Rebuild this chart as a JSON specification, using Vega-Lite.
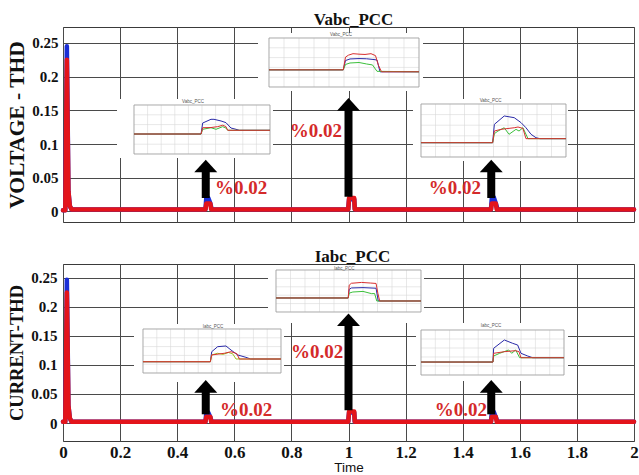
{
  "$schema": "https://vega.github.io/schema/vega-lite/v6.json",
  "background": "white",
  "padding": {"left": 6, "top": 10, "right": 4, "bottom": 0},
  "spacing": 24,
  "config": {
    "view": {"stroke": "#3a3a3a", "strokeWidth": 1},
    "axis": {"gridColor": "#4a4a4a", "gridOpacity": 1, "gridWidth": 1},
    "title": {"font": "Liberation Serif", "fontWeight": "bold", "fontSize": 17, "color": "#111", "baseline": "alphabetic", "offset": -2}
  },
  "datasets": {
    "mainV": [
      {"t": 0, "thd": 0.002, "phase": "a"}, {"t": 0.008, "thd": 0.002, "phase": "a"}, {"t": 0.0135, "thd": 0.245, "phase": "a"}, {"t": 0.019, "thd": 0.03, "phase": "a"}, {"t": 0.024, "thd": 0.008, "phase": "a"}, {"t": 0.03, "thd": 0.003, "phase": "a"},
      {"t": 0.499, "thd": 0.003, "phase": "a"}, {"t": 0.502, "thd": 0.021, "phase": "a"}, {"t": 0.509, "thd": 0.02, "phase": "a"}, {"t": 0.516, "thd": 0.012, "phase": "a"}, {"t": 0.521, "thd": 0.003, "phase": "a"},
      {"t": 0.999, "thd": 0.003, "phase": "a"}, {"t": 1.002, "thd": 0.018, "phase": "a"}, {"t": 1.02, "thd": 0.018, "phase": "a"}, {"t": 1.022, "thd": 0.003, "phase": "a"},
      {"t": 1.499, "thd": 0.003, "phase": "a"}, {"t": 1.502, "thd": 0.02, "phase": "a"}, {"t": 1.509, "thd": 0.021, "phase": "a"}, {"t": 1.516, "thd": 0.012, "phase": "a"}, {"t": 1.522, "thd": 0.003, "phase": "a"}, {"t": 2, "thd": 0.003, "phase": "a"},
      {"t": 0, "thd": 0.002, "phase": "c"}, {"t": 0.008, "thd": 0.002, "phase": "c"}, {"t": 0.0135, "thd": 0.225, "phase": "c"}, {"t": 0.019, "thd": 0.03, "phase": "c"}, {"t": 0.024, "thd": 0.008, "phase": "c"}, {"t": 0.03, "thd": 0.003, "phase": "c"},
      {"t": 0.499, "thd": 0.003, "phase": "c"}, {"t": 0.502, "thd": 0.012, "phase": "c"}, {"t": 0.516, "thd": 0.012, "phase": "c"}, {"t": 0.519, "thd": 0.003, "phase": "c"},
      {"t": 0.999, "thd": 0.003, "phase": "c"}, {"t": 1.002, "thd": 0.02, "phase": "c"}, {"t": 1.02, "thd": 0.02, "phase": "c"}, {"t": 1.022, "thd": 0.003, "phase": "c"},
      {"t": 1.499, "thd": 0.003, "phase": "c"}, {"t": 1.502, "thd": 0.012, "phase": "c"}, {"t": 1.516, "thd": 0.012, "phase": "c"}, {"t": 1.519, "thd": 0.003, "phase": "c"}, {"t": 2, "thd": 0.003, "phase": "c"}
    ],
    "mainI": [
      {"t": 0, "thd": 0.002, "phase": "a"}, {"t": 0.008, "thd": 0.002, "phase": "a"}, {"t": 0.0135, "thd": 0.247, "phase": "a"}, {"t": 0.019, "thd": 0.03, "phase": "a"}, {"t": 0.024, "thd": 0.008, "phase": "a"}, {"t": 0.03, "thd": 0.002, "phase": "a"},
      {"t": 0.499, "thd": 0.002, "phase": "a"}, {"t": 0.502, "thd": 0.018, "phase": "a"}, {"t": 0.509, "thd": 0.018, "phase": "a"}, {"t": 0.516, "thd": 0.01, "phase": "a"}, {"t": 0.521, "thd": 0.002, "phase": "a"},
      {"t": 0.999, "thd": 0.002, "phase": "a"}, {"t": 1.002, "thd": 0.018, "phase": "a"}, {"t": 1.02, "thd": 0.018, "phase": "a"}, {"t": 1.022, "thd": 0.002, "phase": "a"},
      {"t": 1.499, "thd": 0.002, "phase": "a"}, {"t": 1.502, "thd": 0.018, "phase": "a"}, {"t": 1.509, "thd": 0.019, "phase": "a"}, {"t": 1.516, "thd": 0.01, "phase": "a"}, {"t": 1.522, "thd": 0.002, "phase": "a"}, {"t": 2, "thd": 0.002, "phase": "a"},
      {"t": 0, "thd": 0.002, "phase": "c"}, {"t": 0.008, "thd": 0.002, "phase": "c"}, {"t": 0.0135, "thd": 0.225, "phase": "c"}, {"t": 0.019, "thd": 0.03, "phase": "c"}, {"t": 0.024, "thd": 0.008, "phase": "c"}, {"t": 0.03, "thd": 0.002, "phase": "c"},
      {"t": 0.499, "thd": 0.002, "phase": "c"}, {"t": 0.502, "thd": 0.011, "phase": "c"}, {"t": 0.516, "thd": 0.011, "phase": "c"}, {"t": 0.519, "thd": 0.002, "phase": "c"},
      {"t": 0.999, "thd": 0.002, "phase": "c"}, {"t": 1.002, "thd": 0.02, "phase": "c"}, {"t": 1.02, "thd": 0.02, "phase": "c"}, {"t": 1.022, "thd": 0.002, "phase": "c"},
      {"t": 1.499, "thd": 0.002, "phase": "c"}, {"t": 1.502, "thd": 0.011, "phase": "c"}, {"t": 1.516, "thd": 0.011, "phase": "c"}, {"t": 1.519, "thd": 0.002, "phase": "c"}, {"t": 2, "thd": 0.002, "phase": "c"}
    ],
    "inVTL": [
      {"t": 0.45, "thd": 0.0104, "phase": "a"}, {"t": 0.4993, "thd": 0.0104, "phase": "a"}, {"t": 0.5005, "thd": 0.0216, "phase": "a"}, {"t": 0.5066, "thd": 0.0254, "phase": "a"}, {"t": 0.5088, "thd": 0.0254, "phase": "a"}, {"t": 0.514, "thd": 0.0237, "phase": "a"}, {"t": 0.5176, "thd": 0.022, "phase": "a"}, {"t": 0.5213, "thd": 0.0165, "phase": "a"}, {"t": 0.525, "thd": 0.0152, "phase": "a"}, {"t": 0.5274, "thd": 0.0142, "phase": "a"}, {"t": 0.55, "thd": 0.0142, "phase": "a"},
      {"t": 0.45, "thd": 0.0104, "phase": "b"}, {"t": 0.4993, "thd": 0.0104, "phase": "b"}, {"t": 0.5005, "thd": 0.0152, "phase": "b"}, {"t": 0.5066, "thd": 0.0168, "phase": "b"}, {"t": 0.5103, "thd": 0.0152, "phase": "b"}, {"t": 0.5152, "thd": 0.0179, "phase": "b"}, {"t": 0.5176, "thd": 0.0165, "phase": "b"}, {"t": 0.5189, "thd": 0.0142, "phase": "b"}, {"t": 0.55, "thd": 0.0142, "phase": "b"},
      {"t": 0.45, "thd": 0.0104, "phase": "c"}, {"t": 0.4993, "thd": 0.0104, "phase": "c"}, {"t": 0.5005, "thd": 0.0168, "phase": "c"}, {"t": 0.5066, "thd": 0.017, "phase": "c"}, {"t": 0.5115, "thd": 0.0179, "phase": "c"}, {"t": 0.5152, "thd": 0.0193, "phase": "c"}, {"t": 0.5176, "thd": 0.018, "phase": "c"}, {"t": 0.5189, "thd": 0.0142, "phase": "c"}, {"t": 0.55, "thd": 0.0142, "phase": "c"}
    ],
    "inVTM": [
      {"t": 0.95, "thd": 0.0075, "phase": "a"}, {"t": 0.9995, "thd": 0.0075, "phase": "a"}, {"t": 1.001, "thd": 0.017, "phase": "a"}, {"t": 1.004, "thd": 0.0186, "phase": "a"}, {"t": 1.01, "thd": 0.019, "phase": "a"}, {"t": 1.015, "thd": 0.0188, "phase": "a"}, {"t": 1.02, "thd": 0.018, "phase": "a"}, {"t": 1.022, "thd": 0.0175, "phase": "a"}, {"t": 1.024, "thd": 0.0055, "phase": "a"}, {"t": 1.05, "thd": 0.0055, "phase": "a"},
      {"t": 0.95, "thd": 0.0075, "phase": "b"}, {"t": 0.9995, "thd": 0.0075, "phase": "b"}, {"t": 1.001, "thd": 0.013, "phase": "b"}, {"t": 1.004, "thd": 0.0145, "phase": "b"}, {"t": 1.01, "thd": 0.015, "phase": "b"}, {"t": 1.015, "thd": 0.0135, "phase": "b"}, {"t": 1.019, "thd": 0.0125, "phase": "b"}, {"t": 1.022, "thd": 0.006, "phase": "b"}, {"t": 1.05, "thd": 0.0055, "phase": "b"},
      {"t": 0.95, "thd": 0.0075, "phase": "c"}, {"t": 0.9995, "thd": 0.0075, "phase": "c"}, {"t": 1.001, "thd": 0.0205, "phase": "c"}, {"t": 1.003, "thd": 0.0225, "phase": "c"}, {"t": 1.006, "thd": 0.024, "phase": "c"}, {"t": 1.01, "thd": 0.0235, "phase": "c"}, {"t": 1.014, "thd": 0.0232, "phase": "c"}, {"t": 1.018, "thd": 0.024, "phase": "c"}, {"t": 1.021, "thd": 0.022, "phase": "c"}, {"t": 1.023, "thd": 0.012, "phase": "c"}, {"t": 1.025, "thd": 0.0055, "phase": "c"}, {"t": 1.05, "thd": 0.0055, "phase": "c"}
    ],
    "inVTR": [
      {"t": 1.45, "thd": 0.0035, "phase": "a"}, {"t": 1.4994, "thd": 0.0035, "phase": "a"}, {"t": 1.5006, "thd": 0.0208, "phase": "a"}, {"t": 1.5074, "thd": 0.0287, "phase": "a"}, {"t": 1.5143, "thd": 0.0271, "phase": "a"}, {"t": 1.519, "thd": 0.0224, "phase": "a"}, {"t": 1.5224, "thd": 0.0176, "phase": "a"}, {"t": 1.5259, "thd": 0.0114, "phase": "a"}, {"t": 1.5293, "thd": 0.0082, "phase": "a"}, {"t": 1.532, "thd": 0.0073, "phase": "a"}, {"t": 1.55, "thd": 0.0073, "phase": "a"},
      {"t": 1.45, "thd": 0.0035, "phase": "b"}, {"t": 1.4994, "thd": 0.0035, "phase": "b"}, {"t": 1.5006, "thd": 0.012, "phase": "b"}, {"t": 1.5031, "thd": 0.0145, "phase": "b"}, {"t": 1.5074, "thd": 0.0176, "phase": "b"}, {"t": 1.5107, "thd": 0.0114, "phase": "b"}, {"t": 1.5155, "thd": 0.0161, "phase": "b"}, {"t": 1.5176, "thd": 0.0145, "phase": "b"}, {"t": 1.5203, "thd": 0.0176, "phase": "b"}, {"t": 1.5238, "thd": 0.0073, "phase": "b"}, {"t": 1.55, "thd": 0.0073, "phase": "b"},
      {"t": 1.45, "thd": 0.0035, "phase": "c"}, {"t": 1.4994, "thd": 0.0035, "phase": "c"}, {"t": 1.5006, "thd": 0.0145, "phase": "c"}, {"t": 1.5052, "thd": 0.0161, "phase": "c"}, {"t": 1.5143, "thd": 0.0176, "phase": "c"}, {"t": 1.5169, "thd": 0.0183, "phase": "c"}, {"t": 1.5203, "thd": 0.017, "phase": "c"}, {"t": 1.5224, "thd": 0.0073, "phase": "c"}, {"t": 1.55, "thd": 0.0073, "phase": "c"}
    ],
    "inITL": [
      {"t": 0.45, "thd": 0.0028, "phase": "a"}, {"t": 0.4988, "thd": 0.0028, "phase": "a"}, {"t": 0.4998, "thd": 0.0142, "phase": "a"}, {"t": 0.5041, "thd": 0.0199, "phase": "a"}, {"t": 0.5101, "thd": 0.0207, "phase": "a"}, {"t": 0.5138, "thd": 0.0161, "phase": "a"}, {"t": 0.5186, "thd": 0.0105, "phase": "a"}, {"t": 0.5246, "thd": 0.0078, "phase": "a"}, {"t": 0.528, "thd": 0.0059, "phase": "a"}, {"t": 0.55, "thd": 0.0059, "phase": "a"},
      {"t": 0.45, "thd": 0.0028, "phase": "b"}, {"t": 0.4988, "thd": 0.0028, "phase": "b"}, {"t": 0.4998, "thd": 0.0105, "phase": "b"}, {"t": 0.504, "thd": 0.0124, "phase": "b"}, {"t": 0.508, "thd": 0.0112, "phase": "b"}, {"t": 0.512, "thd": 0.0133, "phase": "b"}, {"t": 0.515, "thd": 0.0118, "phase": "b"}, {"t": 0.5174, "thd": 0.0059, "phase": "b"}, {"t": 0.55, "thd": 0.0059, "phase": "b"},
      {"t": 0.45, "thd": 0.0028, "phase": "c"}, {"t": 0.4988, "thd": 0.0028, "phase": "c"}, {"t": 0.4998, "thd": 0.0105, "phase": "c"}, {"t": 0.5089, "thd": 0.0124, "phase": "c"}, {"t": 0.5138, "thd": 0.0142, "phase": "c"}, {"t": 0.518, "thd": 0.012, "phase": "c"}, {"t": 0.5198, "thd": 0.0059, "phase": "c"}, {"t": 0.55, "thd": 0.0059, "phase": "c"}
    ],
    "inITM": [
      {"t": 0.95, "thd": 0.0067, "phase": "a"}, {"t": 0.9998, "thd": 0.0067, "phase": "a"}, {"t": 1.0005, "thd": 0.017, "phase": "a"}, {"t": 1.002, "thd": 0.0186, "phase": "a"}, {"t": 1.01, "thd": 0.019, "phase": "a"}, {"t": 1.019, "thd": 0.0183, "phase": "a"}, {"t": 1.0205, "thd": 0.0031, "phase": "a"}, {"t": 1.05, "thd": 0.0031, "phase": "a"},
      {"t": 0.95, "thd": 0.0067, "phase": "b"}, {"t": 0.9998, "thd": 0.0067, "phase": "b"}, {"t": 1.0005, "thd": 0.0125, "phase": "b"}, {"t": 1.003, "thd": 0.0138, "phase": "b"}, {"t": 1.01, "thd": 0.0145, "phase": "b"}, {"t": 1.016, "thd": 0.0118, "phase": "b"}, {"t": 1.018, "thd": 0.012, "phase": "b"}, {"t": 1.0195, "thd": 0.0031, "phase": "b"}, {"t": 1.05, "thd": 0.0031, "phase": "b"},
      {"t": 0.95, "thd": 0.0067, "phase": "c"}, {"t": 0.9998, "thd": 0.0067, "phase": "c"}, {"t": 1.0005, "thd": 0.022, "phase": "c"}, {"t": 1.002, "thd": 0.0242, "phase": "c"}, {"t": 1.009, "thd": 0.0252, "phase": "c"}, {"t": 1.015, "thd": 0.0245, "phase": "c"}, {"t": 1.019, "thd": 0.024, "phase": "c"}, {"t": 1.0203, "thd": 0.012, "phase": "c"}, {"t": 1.0215, "thd": 0.0031, "phase": "c"}, {"t": 1.05, "thd": 0.0031, "phase": "c"}
    ],
    "inITR": [
      {"t": 1.45, "thd": 0.0044, "phase": "a"}, {"t": 1.5003, "thd": 0.0044, "phase": "a"}, {"t": 1.5008, "thd": 0.0197, "phase": "a"}, {"t": 1.5083, "thd": 0.0289, "phase": "a"}, {"t": 1.5141, "thd": 0.0252, "phase": "a"}, {"t": 1.5176, "thd": 0.0233, "phase": "a"}, {"t": 1.5199, "thd": 0.0141, "phase": "a"}, {"t": 1.5246, "thd": 0.0111, "phase": "a"}, {"t": 1.5281, "thd": 0.0092, "phase": "a"}, {"t": 1.55, "thd": 0.0092, "phase": "a"},
      {"t": 1.45, "thd": 0.0044, "phase": "b"}, {"t": 1.5003, "thd": 0.0044, "phase": "b"}, {"t": 1.5008, "thd": 0.0111, "phase": "b"}, {"t": 1.505, "thd": 0.0141, "phase": "b"}, {"t": 1.5113, "thd": 0.0178, "phase": "b"}, {"t": 1.5134, "thd": 0.0141, "phase": "b"}, {"t": 1.5162, "thd": 0.0178, "phase": "b"}, {"t": 1.519, "thd": 0.0092, "phase": "b"}, {"t": 1.55, "thd": 0.0092, "phase": "b"},
      {"t": 1.45, "thd": 0.0044, "phase": "c"}, {"t": 1.5003, "thd": 0.0044, "phase": "c"}, {"t": 1.5008, "thd": 0.0141, "phase": "c"}, {"t": 1.5083, "thd": 0.0159, "phase": "c"}, {"t": 1.5159, "thd": 0.017, "phase": "c"}, {"t": 1.5185, "thd": 0.016, "phase": "c"}, {"t": 1.5199, "thd": 0.0092, "phase": "c"}, {"t": 1.55, "thd": 0.0092, "phase": "c"}
    ],
    "gA": [{"g": 0.45}, {"g": 0.46}, {"g": 0.47}, {"g": 0.48}, {"g": 0.49}, {"g": 0.5}, {"g": 0.51}, {"g": 0.52}, {"g": 0.53}, {"g": 0.54}, {"g": 0.55}],
    "gB": [{"g": 0.95}, {"g": 0.96}, {"g": 0.97}, {"g": 0.98}, {"g": 0.99}, {"g": 1.0}, {"g": 1.01}, {"g": 1.02}, {"g": 1.03}, {"g": 1.04}, {"g": 1.05}],
    "gC": [{"g": 1.45}, {"g": 1.46}, {"g": 1.47}, {"g": 1.48}, {"g": 1.49}, {"g": 1.5}, {"g": 1.51}, {"g": 1.52}, {"g": 1.53}, {"g": 1.54}, {"g": 1.55}],
    "gH": [{"h": -0.01}, {"h": 0}, {"h": 0.01}, {"h": 0.02}, {"h": 0.03}, {"h": 0.04}],
    "arrowsV": [{"t": 0.5, "y0": 0.02, "y1": 0.0675}, {"t": 1.0, "y0": 0.022, "y1": 0.1588}, {"t": 1.5, "y0": 0.02, "y1": 0.0675}],
    "arrowsI": [{"t": 0.5, "y0": 0.015, "y1": 0.063}, {"t": 1.0, "y0": 0.022, "y1": 0.178}, {"t": 1.5, "y0": 0.015, "y1": 0.063}],
    "labelsV": [{"t": 0.6235, "v": 0.0349, "txt": "%0.02"}, {"t": 0.886, "v": 0.1194, "txt": "%0.02"}, {"t": 1.373, "v": 0.0349, "txt": "%0.02"}],
    "labelsI": [{"t": 0.641, "v": 0.0224, "txt": "%0.02"}, {"t": 0.89, "v": 0.1224, "txt": "%0.02"}, {"t": 1.394, "v": 0.0224, "txt": "%0.02"}]
  },
  "vconcat": [
    {
      "width": 571, "height": 195,
      "title": {"text": "Vabc_PCC", "dx": 5},
      "resolve": {"scale": {"x": "independent", "y": "independent", "color": "independent"}},
      "layer": [
        {
          "data": {"name": "mainV"},
          "mark": {"type": "line", "strokeWidth": 4.5, "strokeJoin": "round", "strokeCap": "round"},
          "encoding": {
            "x": {"field": "t", "type": "quantitative", "scale": {"domain": [0, 2], "nice": false, "zero": false},
              "axis": {"values": [0, 0.2, 0.4, 0.6, 0.8, 1, 1.2, 1.4, 1.6, 1.8, 2], "labels": false, "ticks": false, "domain": false, "title": null, "grid": true}},
            "y": {"field": "thd", "type": "quantitative", "scale": {"domain": [-0.0156, 0.2737], "nice": false, "zero": false},
              "axis": {"values": [0, 0.05, 0.1, 0.15, 0.2, 0.25], "format": "~g", "ticks": false, "domain": false, "grid": true,
                "labelFont": "Liberation Serif", "labelFontWeight": "bold", "labelFontSize": 15, "labelColor": "#111", "labelPadding": 5,
                "title": "VOLTAGE - THD", "titleFont": "Liberation Serif", "titleFontWeight": "bold", "titleFontSize": 21.5, "titleColor": "#111", "titlePadding": 3}},
            "color": {"field": "phase", "type": "nominal", "scale": {"domain": ["a", "b", "c"], "range": ["#1a2ed6", "#2aa02a", "#e3141b"]}, "legend": null}
          }
        },
        {
          "layer": [
            {"data": {"values": [{}]}, "mark": {"type": "rect", "fill": "white", "strokeWidth": 0},
              "encoding": {"x": {"datum": 0.4375, "type": "quantitative", "scale": {"domain": [0.39779, 0.81765], "nice": false, "zero": false}, "axis": null}, "x2": {"datum": 0.5522},
                "y": {"datum": -0.0141, "type": "quantitative", "scale": {"domain": [-0.07939, 0.11959], "nice": false, "zero": false}, "axis": null}, "y2": {"datum": 0.0461}}},
            {"data": {"name": "gA"}, "mark": {"type": "rule", "color": "#d8d8d8", "strokeWidth": 0.6},
              "encoding": {"x": {"field": "g", "type": "quantitative", "scale": {"domain": [0.39779, 0.81765], "nice": false, "zero": false}, "axis": null},
                "y": {"datum": -0.01, "type": "quantitative", "scale": {"domain": [-0.07939, 0.11959], "nice": false, "zero": false}, "axis": null}, "y2": {"datum": 0.04}}},
            {"data": {"name": "gH"}, "mark": {"type": "rule", "color": "#d8d8d8", "strokeWidth": 0.6},
              "encoding": {"y": {"field": "h", "type": "quantitative", "scale": {"domain": [-0.07939, 0.11959], "nice": false, "zero": false}, "axis": null},
                "x": {"datum": 0.45, "type": "quantitative", "scale": {"domain": [0.39779, 0.81765], "nice": false, "zero": false}, "axis": null}, "x2": {"datum": 0.55}}},
            {"data": {"values": [{}]}, "mark": {"type": "rect", "filled": false, "stroke": "#9a9a9a", "strokeWidth": 0.7},
              "encoding": {"x": {"datum": 0.45, "type": "quantitative", "scale": {"domain": [0.39779, 0.81765], "nice": false, "zero": false}, "axis": null}, "x2": {"datum": 0.55},
                "y": {"datum": -0.01, "type": "quantitative", "scale": {"domain": [-0.07939, 0.11959], "nice": false, "zero": false}, "axis": null}, "y2": {"datum": 0.04}}},
            {"data": {"name": "inVTL"}, "mark": {"type": "line", "strokeWidth": 1},
              "encoding": {"x": {"field": "t", "type": "quantitative", "scale": {"domain": [0.39779, 0.81765], "nice": false, "zero": false}, "axis": null},
                "y": {"field": "thd", "type": "quantitative", "scale": {"domain": [-0.07939, 0.11959], "nice": false, "zero": false}, "axis": null},
                "color": {"field": "phase", "type": "nominal", "scale": {"domain": ["a", "b", "c"], "range": ["#2a2aa8", "#3cc03c", "#d83030"]}, "legend": null}}},
            {"data": {"values": [{}]}, "mark": {"type": "text", "fontSize": 4.5, "color": "#555", "font": "Liberation Sans"},
              "encoding": {"x": {"datum": 0.4934, "type": "quantitative", "scale": {"domain": [0.39779, 0.81765], "nice": false, "zero": false}, "axis": null},
                "y": {"datum": 0.043, "type": "quantitative", "scale": {"domain": [-0.07939, 0.11959], "nice": false, "zero": false}, "axis": null}, "text": {"value": "Vabc_PCC"}}}
          ]
        },
        {
          "layer": [
            {"data": {"values": [{}]}, "mark": {"type": "rect", "fill": "white", "strokeWidth": 0},
              "encoding": {"x": {"datum": 0.94267, "type": "quantitative", "scale": {"domain": [0.81267, 1.19333], "nice": false, "zero": false}, "axis": null}, "x2": {"datum": 1.05267},
                "y": {"datum": -0.01408, "type": "quantitative", "scale": {"domain": [-0.14776, 0.05122], "nice": false, "zero": false}, "axis": null}, "y2": {"datum": 0.0451}}},
            {"data": {"name": "gB"}, "mark": {"type": "rule", "color": "#d8d8d8", "strokeWidth": 0.6},
              "encoding": {"x": {"field": "g", "type": "quantitative", "scale": {"domain": [0.81267, 1.19333], "nice": false, "zero": false}, "axis": null},
                "y": {"datum": -0.01, "type": "quantitative", "scale": {"domain": [-0.14776, 0.05122], "nice": false, "zero": false}, "axis": null}, "y2": {"datum": 0.04}}},
            {"data": {"name": "gH"}, "mark": {"type": "rule", "color": "#d8d8d8", "strokeWidth": 0.6},
              "encoding": {"y": {"field": "h", "type": "quantitative", "scale": {"domain": [-0.14776, 0.05122], "nice": false, "zero": false}, "axis": null},
                "x": {"datum": 0.95, "type": "quantitative", "scale": {"domain": [0.81267, 1.19333], "nice": false, "zero": false}, "axis": null}, "x2": {"datum": 1.05}}},
            {"data": {"values": [{}]}, "mark": {"type": "rect", "filled": false, "stroke": "#9a9a9a", "strokeWidth": 0.7},
              "encoding": {"x": {"datum": 0.95, "type": "quantitative", "scale": {"domain": [0.81267, 1.19333], "nice": false, "zero": false}, "axis": null}, "x2": {"datum": 1.05},
                "y": {"datum": -0.01, "type": "quantitative", "scale": {"domain": [-0.14776, 0.05122], "nice": false, "zero": false}, "axis": null}, "y2": {"datum": 0.04}}},
            {"data": {"name": "inVTM"}, "mark": {"type": "line", "strokeWidth": 1},
              "encoding": {"x": {"field": "t", "type": "quantitative", "scale": {"domain": [0.81267, 1.19333], "nice": false, "zero": false}, "axis": null},
                "y": {"field": "thd", "type": "quantitative", "scale": {"domain": [-0.14776, 0.05122], "nice": false, "zero": false}, "axis": null},
                "color": {"field": "phase", "type": "nominal", "scale": {"domain": ["a", "b", "c"], "range": ["#2a2aa8", "#3cc03c", "#d83030"]}, "legend": null}}},
            {"data": {"values": [{}]}, "mark": {"type": "text", "fontSize": 4.5, "color": "#555", "font": "Liberation Sans"},
              "encoding": {"x": {"datum": 0.998, "type": "quantitative", "scale": {"domain": [0.81267, 1.19333], "nice": false, "zero": false}, "axis": null},
                "y": {"datum": 0.0431, "type": "quantitative", "scale": {"domain": [-0.14776, 0.05122], "nice": false, "zero": false}, "axis": null}, "text": {"value": "Vabc_PCC"}}}
          ]
        },
        {
          "layer": [
            {"data": {"values": [{}]}, "mark": {"type": "rect", "fill": "white", "strokeWidth": 0},
              "encoding": {"x": {"datum": 1.44448, "type": "quantitative", "scale": {"domain": [1.2031, 1.5969], "nice": false, "zero": false}, "axis": null}, "x2": {"datum": 1.55138},
                "y": {"datum": -0.0138, "type": "quantitative", "scale": {"domain": [-0.07132, 0.11264], "nice": false, "zero": false}, "axis": null}, "y2": {"datum": 0.0447}}},
            {"data": {"name": "gC"}, "mark": {"type": "rule", "color": "#d8d8d8", "strokeWidth": 0.6},
              "encoding": {"x": {"field": "g", "type": "quantitative", "scale": {"domain": [1.2031, 1.5969], "nice": false, "zero": false}, "axis": null},
                "y": {"datum": -0.01, "type": "quantitative", "scale": {"domain": [-0.07132, 0.11264], "nice": false, "zero": false}, "axis": null}, "y2": {"datum": 0.04}}},
            {"data": {"name": "gH"}, "mark": {"type": "rule", "color": "#d8d8d8", "strokeWidth": 0.6},
              "encoding": {"y": {"field": "h", "type": "quantitative", "scale": {"domain": [-0.07132, 0.11264], "nice": false, "zero": false}, "axis": null},
                "x": {"datum": 1.45, "type": "quantitative", "scale": {"domain": [1.2031, 1.5969], "nice": false, "zero": false}, "axis": null}, "x2": {"datum": 1.55}}},
            {"data": {"values": [{}]}, "mark": {"type": "rect", "filled": false, "stroke": "#9a9a9a", "strokeWidth": 0.7},
              "encoding": {"x": {"datum": 1.45, "type": "quantitative", "scale": {"domain": [1.2031, 1.5969], "nice": false, "zero": false}, "axis": null}, "x2": {"datum": 1.55},
                "y": {"datum": -0.01, "type": "quantitative", "scale": {"domain": [-0.07132, 0.11264], "nice": false, "zero": false}, "axis": null}, "y2": {"datum": 0.04}}},
            {"data": {"name": "inVTR"}, "mark": {"type": "line", "strokeWidth": 1},
              "encoding": {"x": {"field": "t", "type": "quantitative", "scale": {"domain": [1.2031, 1.5969], "nice": false, "zero": false}, "axis": null},
                "y": {"field": "thd", "type": "quantitative", "scale": {"domain": [-0.07132, 0.11264], "nice": false, "zero": false}, "axis": null},
                "color": {"field": "phase", "type": "nominal", "scale": {"domain": ["a", "b", "c"], "range": ["#2a2aa8", "#3cc03c", "#d83030"]}, "legend": null}}},
            {"data": {"values": [{}]}, "mark": {"type": "text", "fontSize": 4.5, "color": "#555", "font": "Liberation Sans"},
              "encoding": {"x": {"datum": 1.498, "type": "quantitative", "scale": {"domain": [1.2031, 1.5969], "nice": false, "zero": false}, "axis": null},
                "y": {"datum": 0.0428, "type": "quantitative", "scale": {"domain": [-0.07132, 0.11264], "nice": false, "zero": false}, "axis": null}, "text": {"value": "Vabc_PCC"}}}
          ]
        },
        {
          "layer": [
            {"data": {"name": "arrowsV"}, "mark": {"type": "rule", "color": "black", "strokeWidth": 8},
              "encoding": {"x": {"field": "t", "type": "quantitative", "scale": {"domain": [0, 2], "nice": false, "zero": false}, "axis": null},
                "y": {"field": "y0", "type": "quantitative", "scale": {"domain": [-0.0156, 0.2737], "nice": false, "zero": false}, "axis": null}, "y2": {"field": "y1"}}},
            {"data": {"name": "arrowsV"}, "mark": {"type": "point", "shape": "M-1,0.55L0,-0.55L1,0.55Z", "filled": true, "color": "black", "opacity": 1, "size": 529, "strokeWidth": 0},
              "encoding": {"x": {"field": "t", "type": "quantitative", "scale": {"domain": [0, 2], "nice": false, "zero": false}, "axis": null},
                "y": {"field": "y1", "type": "quantitative", "scale": {"domain": [-0.0156, 0.2737], "nice": false, "zero": false}, "axis": null}}},
            {"data": {"name": "labelsV"}, "mark": {"type": "text", "font": "Liberation Serif", "fontWeight": "bold", "fontSize": 19, "color": "#d42a2a", "align": "center", "baseline": "middle"},
              "encoding": {"x": {"field": "t", "type": "quantitative", "scale": {"domain": [0, 2], "nice": false, "zero": false}, "axis": null},
                "y": {"field": "v", "type": "quantitative", "scale": {"domain": [-0.0156, 0.2737], "nice": false, "zero": false}, "axis": null}, "text": {"field": "txt"}}}
          ]
        }
      ]
    },
    {
      "width": 571, "height": 177,
      "title": {"text": "Iabc_PCC", "dx": 4},
      "resolve": {"scale": {"x": "independent", "y": "independent", "color": "independent"}},
      "layer": [
        {
          "data": {"name": "mainI"},
          "mark": {"type": "line", "strokeWidth": 4.5, "strokeJoin": "round", "strokeCap": "round"},
          "encoding": {
            "x": {"field": "t", "type": "quantitative", "scale": {"domain": [0, 2], "nice": false, "zero": false},
              "axis": {"values": [0, 0.2, 0.4, 0.6, 0.8, 1, 1.2, 1.4, 1.6, 1.8, 2], "format": "~g", "ticks": false, "domain": false, "grid": true, "labelFlush": false,
                "labelFont": "Liberation Serif", "labelFontWeight": "bold", "labelFontSize": 17, "labelColor": "#111", "labelPadding": 3,
                "title": "Time", "titleFont": "Liberation Sans", "titleFontWeight": "normal", "titleFontSize": 13.5, "titleColor": "#111", "titlePadding": 0}},
            "y": {"field": "thd", "type": "quantitative", "scale": {"domain": [-0.031, 0.274], "nice": false, "zero": false},
              "axis": {"values": [0, 0.05, 0.1, 0.15, 0.2, 0.25], "format": "~g", "ticks": false, "domain": false, "grid": true,
                "labelFont": "Liberation Serif", "labelFontWeight": "bold", "labelFontSize": 15, "labelColor": "#111", "labelPadding": 6,
                "title": "CURRENT-THD", "titleFont": "Liberation Serif", "titleFontWeight": "bold", "titleFontSize": 18.5, "titleColor": "#111", "titlePadding": 4}},
            "color": {"field": "phase", "type": "nominal", "scale": {"domain": ["a", "b", "c"], "range": ["#1a2ed6", "#2aa02a", "#e3141b"]}, "legend": null}
          }
        },
        {
          "layer": [
            {"data": {"values": [{}]}, "mark": {"type": "rect", "fill": "white", "strokeWidth": 0},
              "encoding": {"x": {"datum": 0.44348, "type": "quantitative", "scale": {"domain": [0.39203, 0.8058], "nice": false, "zero": false}, "axis": null}, "x2": {"datum": 0.55217},
                "y": {"datum": -0.0202, "type": "quantitative", "scale": {"domain": [-0.08727, 0.11386], "nice": false, "zero": false}, "axis": null}, "y2": {"datum": 0.0457}}},
            {"data": {"name": "gA"}, "mark": {"type": "rule", "color": "#d8d8d8", "strokeWidth": 0.6},
              "encoding": {"x": {"field": "g", "type": "quantitative", "scale": {"domain": [0.39203, 0.8058], "nice": false, "zero": false}, "axis": null},
                "y": {"datum": -0.01, "type": "quantitative", "scale": {"domain": [-0.08727, 0.11386], "nice": false, "zero": false}, "axis": null}, "y2": {"datum": 0.04}}},
            {"data": {"name": "gH"}, "mark": {"type": "rule", "color": "#d8d8d8", "strokeWidth": 0.6},
              "encoding": {"y": {"field": "h", "type": "quantitative", "scale": {"domain": [-0.08727, 0.11386], "nice": false, "zero": false}, "axis": null},
                "x": {"datum": 0.45, "type": "quantitative", "scale": {"domain": [0.39203, 0.8058], "nice": false, "zero": false}, "axis": null}, "x2": {"datum": 0.55}}},
            {"data": {"values": [{}]}, "mark": {"type": "rect", "filled": false, "stroke": "#9a9a9a", "strokeWidth": 0.7},
              "encoding": {"x": {"datum": 0.45, "type": "quantitative", "scale": {"domain": [0.39203, 0.8058], "nice": false, "zero": false}, "axis": null}, "x2": {"datum": 0.55},
                "y": {"datum": -0.01, "type": "quantitative", "scale": {"domain": [-0.08727, 0.11386], "nice": false, "zero": false}, "axis": null}, "y2": {"datum": 0.04}}},
            {"data": {"name": "inITL"}, "mark": {"type": "line", "strokeWidth": 1},
              "encoding": {"x": {"field": "t", "type": "quantitative", "scale": {"domain": [0.39203, 0.8058], "nice": false, "zero": false}, "axis": null},
                "y": {"field": "thd", "type": "quantitative", "scale": {"domain": [-0.08727, 0.11386], "nice": false, "zero": false}, "axis": null},
                "color": {"field": "phase", "type": "nominal", "scale": {"domain": ["a", "b", "c"], "range": ["#2a2aa8", "#9cc020", "#d83030"]}, "legend": null}}},
            {"data": {"values": [{}]}, "mark": {"type": "text", "fontSize": 4.5, "color": "#555", "font": "Liberation Sans"},
              "encoding": {"x": {"datum": 0.5007, "type": "quantitative", "scale": {"domain": [0.39203, 0.8058], "nice": false, "zero": false}, "axis": null},
                "y": {"datum": 0.0423, "type": "quantitative", "scale": {"domain": [-0.08727, 0.11386], "nice": false, "zero": false}, "axis": null}, "text": {"value": "Iabc_PCC"}}}
          ]
        },
        {
          "layer": [
            {"data": {"values": [{}]}, "mark": {"type": "rect", "fill": "white", "strokeWidth": 0},
              "encoding": {"x": {"datum": 0.94448, "type": "quantitative", "scale": {"domain": [0.8031, 1.1969], "nice": false, "zero": false}, "axis": null}, "x2": {"datum": 1.05207},
                "y": {"datum": -0.0231, "type": "quantitative", "scale": {"domain": [-0.16357, 0.04714], "nice": false, "zero": false}, "axis": null}, "y2": {"datum": 0.046}}},
            {"data": {"name": "gB"}, "mark": {"type": "rule", "color": "#d8d8d8", "strokeWidth": 0.6},
              "encoding": {"x": {"field": "g", "type": "quantitative", "scale": {"domain": [0.8031, 1.1969], "nice": false, "zero": false}, "axis": null},
                "y": {"datum": -0.01, "type": "quantitative", "scale": {"domain": [-0.16357, 0.04714], "nice": false, "zero": false}, "axis": null}, "y2": {"datum": 0.04}}},
            {"data": {"name": "gH"}, "mark": {"type": "rule", "color": "#d8d8d8", "strokeWidth": 0.6},
              "encoding": {"y": {"field": "h", "type": "quantitative", "scale": {"domain": [-0.16357, 0.04714], "nice": false, "zero": false}, "axis": null},
                "x": {"datum": 0.95, "type": "quantitative", "scale": {"domain": [0.8031, 1.1969], "nice": false, "zero": false}, "axis": null}, "x2": {"datum": 1.05}}},
            {"data": {"values": [{}]}, "mark": {"type": "rect", "filled": false, "stroke": "#9a9a9a", "strokeWidth": 0.7},
              "encoding": {"x": {"datum": 0.95, "type": "quantitative", "scale": {"domain": [0.8031, 1.1969], "nice": false, "zero": false}, "axis": null}, "x2": {"datum": 1.05},
                "y": {"datum": -0.01, "type": "quantitative", "scale": {"domain": [-0.16357, 0.04714], "nice": false, "zero": false}, "axis": null}, "y2": {"datum": 0.04}}},
            {"data": {"name": "inITM"}, "mark": {"type": "line", "strokeWidth": 1},
              "encoding": {"x": {"field": "t", "type": "quantitative", "scale": {"domain": [0.8031, 1.1969], "nice": false, "zero": false}, "axis": null},
                "y": {"field": "thd", "type": "quantitative", "scale": {"domain": [-0.16357, 0.04714], "nice": false, "zero": false}, "axis": null},
                "color": {"field": "phase", "type": "nominal", "scale": {"domain": ["a", "b", "c"], "range": ["#2a2aa8", "#3cc03c", "#d83030"]}, "legend": null}}},
            {"data": {"values": [{}]}, "mark": {"type": "text", "fontSize": 4.5, "color": "#555", "font": "Liberation Sans"},
              "encoding": {"x": {"datum": 0.997, "type": "quantitative", "scale": {"domain": [0.8031, 1.1969], "nice": false, "zero": false}, "axis": null},
                "y": {"datum": 0.0415, "type": "quantitative", "scale": {"domain": [-0.16357, 0.04714], "nice": false, "zero": false}, "axis": null}, "text": {"value": "Iabc_PCC"}}}
          ]
        },
        {
          "layer": [
            {"data": {"values": [{}]}, "mark": {"type": "rect", "fill": "white", "strokeWidth": 0},
              "encoding": {"x": {"datum": 1.4465, "type": "quantitative", "scale": {"domain": [1.19965, 1.59895], "nice": false, "zero": false}, "axis": null}, "x2": {"datum": 1.5528},
                "y": {"datum": -0.0167, "type": "quantitative", "scale": {"domain": [-0.08333, 0.11333], "nice": false, "zero": false}, "axis": null}, "y2": {"datum": 0.0478}}},
            {"data": {"name": "gC"}, "mark": {"type": "rule", "color": "#d8d8d8", "strokeWidth": 0.6},
              "encoding": {"x": {"field": "g", "type": "quantitative", "scale": {"domain": [1.19965, 1.59895], "nice": false, "zero": false}, "axis": null},
                "y": {"datum": -0.01, "type": "quantitative", "scale": {"domain": [-0.08333, 0.11333], "nice": false, "zero": false}, "axis": null}, "y2": {"datum": 0.04}}},
            {"data": {"name": "gH"}, "mark": {"type": "rule", "color": "#d8d8d8", "strokeWidth": 0.6},
              "encoding": {"y": {"field": "h", "type": "quantitative", "scale": {"domain": [-0.08333, 0.11333], "nice": false, "zero": false}, "axis": null},
                "x": {"datum": 1.45, "type": "quantitative", "scale": {"domain": [1.19965, 1.59895], "nice": false, "zero": false}, "axis": null}, "x2": {"datum": 1.55}}},
            {"data": {"values": [{}]}, "mark": {"type": "rect", "filled": false, "stroke": "#9a9a9a", "strokeWidth": 0.7},
              "encoding": {"x": {"datum": 1.45, "type": "quantitative", "scale": {"domain": [1.19965, 1.59895], "nice": false, "zero": false}, "axis": null}, "x2": {"datum": 1.55},
                "y": {"datum": -0.01, "type": "quantitative", "scale": {"domain": [-0.08333, 0.11333], "nice": false, "zero": false}, "axis": null}, "y2": {"datum": 0.04}}},
            {"data": {"name": "inITR"}, "mark": {"type": "line", "strokeWidth": 1},
              "encoding": {"x": {"field": "t", "type": "quantitative", "scale": {"domain": [1.19965, 1.59895], "nice": false, "zero": false}, "axis": null},
                "y": {"field": "thd", "type": "quantitative", "scale": {"domain": [-0.08333, 0.11333], "nice": false, "zero": false}, "axis": null},
                "color": {"field": "phase", "type": "nominal", "scale": {"domain": ["a", "b", "c"], "range": ["#2a2aa8", "#3cc03c", "#d83030"]}, "legend": null}}},
            {"data": {"values": [{}]}, "mark": {"type": "text", "fontSize": 4.5, "color": "#555", "font": "Liberation Sans"},
              "encoding": {"x": {"datum": 1.499, "type": "quantitative", "scale": {"domain": [1.19965, 1.59895], "nice": false, "zero": false}, "axis": null},
                "y": {"datum": 0.0444, "type": "quantitative", "scale": {"domain": [-0.08333, 0.11333], "nice": false, "zero": false}, "axis": null}, "text": {"value": "Iabc_PCC"}}}
          ]
        },
        {
          "layer": [
            {"data": {"name": "arrowsI"}, "mark": {"type": "rule", "color": "black", "strokeWidth": 8},
              "encoding": {"x": {"field": "t", "type": "quantitative", "scale": {"domain": [0, 2], "nice": false, "zero": false}, "axis": null},
                "y": {"field": "y0", "type": "quantitative", "scale": {"domain": [-0.031, 0.274], "nice": false, "zero": false}, "axis": null}, "y2": {"field": "y1"}}},
            {"data": {"name": "arrowsI"}, "mark": {"type": "point", "shape": "M-1,0.55L0,-0.55L1,0.55Z", "filled": true, "color": "black", "opacity": 1, "size": 529, "strokeWidth": 0},
              "encoding": {"x": {"field": "t", "type": "quantitative", "scale": {"domain": [0, 2], "nice": false, "zero": false}, "axis": null},
                "y": {"field": "y1", "type": "quantitative", "scale": {"domain": [-0.031, 0.274], "nice": false, "zero": false}, "axis": null}}},
            {"data": {"name": "labelsI"}, "mark": {"type": "text", "font": "Liberation Serif", "fontWeight": "bold", "fontSize": 19, "color": "#d42a2a", "align": "center", "baseline": "middle"},
              "encoding": {"x": {"field": "t", "type": "quantitative", "scale": {"domain": [0, 2], "nice": false, "zero": false}, "axis": null},
                "y": {"field": "v", "type": "quantitative", "scale": {"domain": [-0.031, 0.274], "nice": false, "zero": false}, "axis": null}, "text": {"field": "txt"}}}
          ]
        }
      ]
    }
  ]
}
